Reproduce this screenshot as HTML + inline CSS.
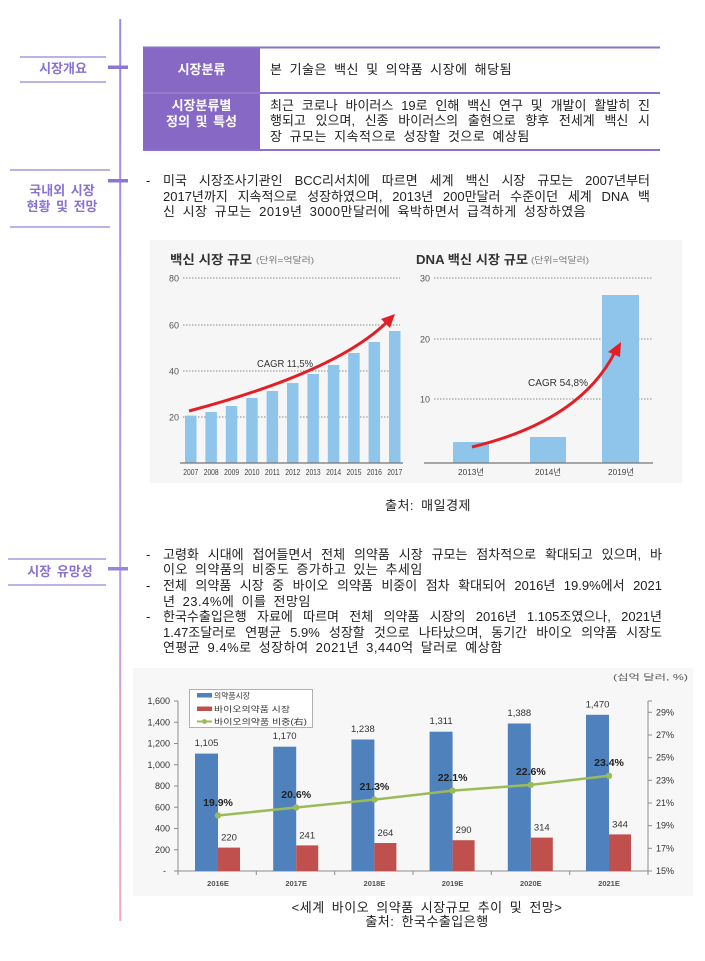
<!DOCTYPE html>
<html>
<head>
<meta charset="utf-8">
<style>
  html,body{margin:0;padding:0;background:#fff;}
  body{width:705px;height:961px;position:relative;overflow:hidden;
    font-family:"Liberation Sans","Noto Sans CJK KR",sans-serif;color:#222;}
  .t{position:absolute;font-size:13px;line-height:16px;height:16px;white-space:nowrap;word-spacing:3px;letter-spacing:0.5px;}
  .j{position:absolute;font-size:13px;line-height:16px;height:16px;text-align:justify;text-align-last:justify;overflow:visible;}
  .lab{position:absolute;font-size:13px;line-height:16px;font-weight:bold;color:#8a72d2;text-align:center;white-space:nowrap;word-spacing:2px;}
  .hd{position:absolute;color:#fff;font-weight:bold;font-size:13px;line-height:15.5px;text-align:center;white-space:nowrap;word-spacing:2px;}
  svg{position:absolute;left:0;top:0;}
</style>
</head>
<body>
<svg width="705" height="961" viewBox="0 0 705 961" xmlns="http://www.w3.org/2000/svg">
  <defs>
    <linearGradient id="vg" x1="0" y1="0" x2="0" y2="1">
      <stop offset="0" stop-color="#9d88e4"/>
      <stop offset="0.55" stop-color="#b79ae0"/>
      <stop offset="1" stop-color="#f5a8c2"/>
    </linearGradient>
  </defs>
  <!-- timeline -->
  <rect x="119.2" y="19" width="2" height="902" fill="url(#vg)"/>
  <rect x="108" y="65.5" width="20" height="3.5" fill="#8b76d8"/>
  <rect x="108" y="179" width="20" height="3.5" fill="#8b76d8"/>
  <rect x="108" y="567" width="20" height="3.5" fill="#9a84dc"/>
  <!-- label lines -->
  <g stroke="#a797e0" stroke-width="1.5">
    <line x1="20" y1="57" x2="106" y2="57"/>
    <line x1="20" y1="82" x2="106" y2="82"/>
    <line x1="10" y1="170" x2="110" y2="170"/>
    <line x1="10" y1="227" x2="110" y2="227"/>
    <line x1="8" y1="559" x2="106" y2="559"/>
    <line x1="8" y1="585" x2="106" y2="585"/>
  </g>
  <!-- table -->
  <rect x="143" y="47" width="117" height="103" fill="#8769c5"/>
  <line x1="143" y1="47.5" x2="660" y2="47.5" stroke="#8a70d0" stroke-width="2"/>
  <line x1="143" y1="93" x2="260" y2="93" stroke="#9d86d6" stroke-width="1.2"/>
  <line x1="260" y1="93" x2="660" y2="93" stroke="#8a70d0" stroke-width="2"/>
  <line x1="143" y1="150" x2="660" y2="150" stroke="#8a70d0" stroke-width="2"/>

  <!-- top chart backgrounds -->
  <rect x="150" y="240" width="532" height="243" fill="#f6f6f6"/>

  <!-- Left chart -->
  <text x="170" y="264" font-family="Liberation Sans, Noto Sans CJK KR, sans-serif" font-size="12.5" font-weight="bold" fill="#333" textLength="82" lengthAdjust="spacingAndGlyphs">백신 시장 규모</text>
  <text x="256" y="263" font-family="Liberation Sans, Noto Sans CJK KR, sans-serif" font-size="8.5" fill="#777" textLength="58" lengthAdjust="spacingAndGlyphs">(단위=억달러)</text>
  <g stroke="#8a8a8a" stroke-width="1" stroke-dasharray="1.5,1.5">
    <line x1="183" y1="278" x2="400" y2="278"/>
    <line x1="183" y1="325" x2="400" y2="325"/>
    <line x1="183" y1="371" x2="400" y2="371"/>
    <line x1="183" y1="417" x2="400" y2="417"/>
  </g>
  <g font-family="Liberation Sans, sans-serif" font-size="9.5" fill="#555">
    <text x="169" y="281.5" textLength="10" lengthAdjust="spacingAndGlyphs">80</text>
    <text x="169" y="328.5" textLength="10" lengthAdjust="spacingAndGlyphs">60</text>
    <text x="169" y="374.5" textLength="10" lengthAdjust="spacingAndGlyphs">40</text>
    <text x="169" y="420.5" textLength="10" lengthAdjust="spacingAndGlyphs">20</text>
  </g>
  <g fill="#8fc5eb">
    <rect x="185" y="415.6" width="11.5" height="47.4"/>
    <rect x="205.4" y="412" width="11.5" height="51"/>
    <rect x="225.8" y="406" width="11.5" height="57"/>
    <rect x="246.2" y="398" width="11.5" height="65"/>
    <rect x="266.6" y="391" width="11.5" height="72"/>
    <rect x="287" y="383" width="11.5" height="80"/>
    <rect x="307.4" y="374" width="11.5" height="89"/>
    <rect x="327.8" y="365" width="11.5" height="98"/>
    <rect x="348.2" y="353" width="11.5" height="110"/>
    <rect x="368.6" y="342" width="11.5" height="121"/>
    <rect x="389" y="331" width="11.5" height="132"/>
  </g>
  <line x1="180" y1="463" x2="403" y2="463" stroke="#777" stroke-width="1.2"/>
  <g font-family="Liberation Sans, sans-serif" font-size="8.5" fill="#444" text-anchor="middle">
    <text x="190.8" y="475" textLength="15" lengthAdjust="spacingAndGlyphs">2007</text>
    <text x="211.2" y="475" textLength="15" lengthAdjust="spacingAndGlyphs">2008</text>
    <text x="231.6" y="475" textLength="15" lengthAdjust="spacingAndGlyphs">2009</text>
    <text x="252" y="475" textLength="15" lengthAdjust="spacingAndGlyphs">2010</text>
    <text x="272.4" y="475" textLength="15" lengthAdjust="spacingAndGlyphs">2011</text>
    <text x="292.8" y="475" textLength="15" lengthAdjust="spacingAndGlyphs">2012</text>
    <text x="313.2" y="475" textLength="15" lengthAdjust="spacingAndGlyphs">2013</text>
    <text x="333.6" y="475" textLength="15" lengthAdjust="spacingAndGlyphs">2014</text>
    <text x="354" y="475" textLength="15" lengthAdjust="spacingAndGlyphs">2015</text>
    <text x="374.4" y="475" textLength="15" lengthAdjust="spacingAndGlyphs">2016</text>
    <text x="394.8" y="475" textLength="15" lengthAdjust="spacingAndGlyphs">2017</text>
  </g>
  <path d="M189,411 Q336,372 387,322" fill="none" stroke="#e41e26" stroke-width="3"/>
  <polygon points="395,314 381,319 390,328" fill="#e41e26"/>
  <text x="257" y="367" font-family="Liberation Sans, sans-serif" font-size="10.5" fill="#333" textLength="56" lengthAdjust="spacingAndGlyphs">CAGR 11,5%</text>

  <!-- Right chart -->
  <text x="416" y="264" font-family="Liberation Sans, Noto Sans CJK KR, sans-serif" font-size="12.5" font-weight="bold" fill="#333" textLength="112" lengthAdjust="spacingAndGlyphs">DNA 백신 시장 규모</text>
  <text x="531" y="263" font-family="Liberation Sans, Noto Sans CJK KR, sans-serif" font-size="8.5" fill="#777" textLength="58" lengthAdjust="spacingAndGlyphs">(단위=억달러)</text>
  <g stroke="#8a8a8a" stroke-width="1" stroke-dasharray="1.5,1.5">
    <line x1="434" y1="278" x2="653" y2="278"/>
    <line x1="434" y1="339" x2="653" y2="339"/>
    <line x1="434" y1="399" x2="653" y2="399"/>
  </g>
  <g font-family="Liberation Sans, sans-serif" font-size="9.5" fill="#555">
    <text x="420" y="281.5" textLength="10" lengthAdjust="spacingAndGlyphs">30</text>
    <text x="420" y="342.5" textLength="10" lengthAdjust="spacingAndGlyphs">20</text>
    <text x="420" y="402.5" textLength="10" lengthAdjust="spacingAndGlyphs">10</text>
  </g>
  <g fill="#8fc5eb">
    <rect x="453" y="442" width="36" height="21"/>
    <rect x="530" y="437" width="36" height="26"/>
    <rect x="602" y="295" width="37" height="168"/>
  </g>
  <line x1="424" y1="463" x2="653" y2="463" stroke="#777" stroke-width="1.2"/>
  <g font-family="Liberation Sans, Noto Sans CJK KR, sans-serif" font-size="8.5" fill="#444" text-anchor="middle">
    <text x="471" y="475" textLength="26" lengthAdjust="spacingAndGlyphs">2013년</text>
    <text x="548" y="475" textLength="26" lengthAdjust="spacingAndGlyphs">2014년</text>
    <text x="621" y="475" textLength="26" lengthAdjust="spacingAndGlyphs">2019년</text>
  </g>
  <path d="M472,447 Q580,421 615,352" fill="none" stroke="#e41e26" stroke-width="3"/>
  <polygon points="621,342 608,352 620,357" fill="#e41e26"/>
  <text x="528" y="386" font-family="Liberation Sans, sans-serif" font-size="10.5" fill="#333" textLength="60" lengthAdjust="spacingAndGlyphs">CAGR 54,8%</text>

  <!-- Bottom chart -->
  <rect x="133" y="668" width="560" height="228" fill="#f7f7f7"/>
  <text x="613" y="680" font-family="Liberation Sans, Noto Sans CJK KR, sans-serif" font-size="8" fill="#555" textLength="75" lengthAdjust="spacingAndGlyphs">(십억 달러, %)</text>
  <!-- axes -->
  <g stroke="#8c8c8c" stroke-width="1">
    <line x1="178" y1="701" x2="178" y2="871"/>
    <line x1="648" y1="701" x2="648" y2="871"/>
    <line x1="174" y1="871" x2="652" y2="871"/>
    <line x1="174" y1="701" x2="178" y2="701"/>
    <line x1="174" y1="722.25" x2="178" y2="722.25"/>
    <line x1="174" y1="743.5" x2="178" y2="743.5"/>
    <line x1="174" y1="764.75" x2="178" y2="764.75"/>
    <line x1="174" y1="786" x2="178" y2="786"/>
    <line x1="174" y1="807.25" x2="178" y2="807.25"/>
    <line x1="174" y1="828.5" x2="178" y2="828.5"/>
    <line x1="174" y1="849.75" x2="178" y2="849.75"/>
    <line x1="648" y1="701" x2="652" y2="701"/>
    <line x1="648" y1="712.3" x2="652" y2="712.3"/>
    <line x1="648" y1="735" x2="652" y2="735"/>
    <line x1="648" y1="757.7" x2="652" y2="757.7"/>
    <line x1="648" y1="780.3" x2="652" y2="780.3"/>
    <line x1="648" y1="803" x2="652" y2="803"/>
    <line x1="648" y1="825.7" x2="652" y2="825.7"/>
    <line x1="648" y1="848.3" x2="652" y2="848.3"/>
    <line x1="256.3" y1="871" x2="256.3" y2="875"/>
    <line x1="334.7" y1="871" x2="334.7" y2="875"/>
    <line x1="413" y1="871" x2="413" y2="875"/>
    <line x1="491.3" y1="871" x2="491.3" y2="875"/>
    <line x1="569.7" y1="871" x2="569.7" y2="875"/>
    <line x1="178" y1="871" x2="178" y2="875"/>
    <line x1="648" y1="871" x2="648" y2="875"/>
  </g>
  <g font-family="Liberation Sans, sans-serif" font-size="9" fill="#333" text-anchor="end">
    <text x="170" y="704">1,600</text>
    <text x="170" y="725.3">1,400</text>
    <text x="170" y="746.5">1,200</text>
    <text x="170" y="767.8">1,000</text>
    <text x="170" y="789">800</text>
    <text x="170" y="810.3">600</text>
    <text x="170" y="831.5">400</text>
    <text x="170" y="852.8">200</text>
    <text x="166" y="874">-</text>
  </g>
  <g font-family="Liberation Sans, sans-serif" font-size="9" fill="#333">
    <text x="656" y="715.3">29%</text>
    <text x="656" y="738">27%</text>
    <text x="656" y="760.7">25%</text>
    <text x="656" y="783.3">23%</text>
    <text x="656" y="806">21%</text>
    <text x="656" y="828.7">19%</text>
    <text x="656" y="851.3">17%</text>
    <text x="656" y="874">15%</text>
  </g>
  <!-- bars -->
  <g fill="#4f81bd">
    <rect x="195" y="753.6" width="23" height="117.4"/>
    <rect x="273.2" y="746.7" width="23" height="124.3"/>
    <rect x="351.4" y="739.5" width="23" height="131.5"/>
    <rect x="429.6" y="731.7" width="23" height="139.3"/>
    <rect x="507.8" y="723.5" width="23" height="147.5"/>
    <rect x="586" y="714.8" width="23" height="156.2"/>
  </g>
  <g fill="#c0504d">
    <rect x="218" y="847.6" width="22" height="23.4"/>
    <rect x="296.2" y="845.4" width="22" height="25.6"/>
    <rect x="374.4" y="843" width="22" height="28"/>
    <rect x="452.6" y="840.2" width="22" height="30.8"/>
    <rect x="530.8" y="837.6" width="22" height="33.4"/>
    <rect x="609" y="834.4" width="22" height="36.6"/>
  </g>
  <g font-family="Liberation Sans, sans-serif" font-size="9.5" fill="#333" text-anchor="middle">
    <text x="206.5" y="746">1,105</text>
    <text x="284.7" y="739">1,170</text>
    <text x="362.9" y="732">1,238</text>
    <text x="441.1" y="724">1,311</text>
    <text x="519.3" y="716">1,388</text>
    <text x="597.5" y="707.5">1,470</text>
    <text x="229" y="840.5">220</text>
    <text x="307.2" y="838.3">241</text>
    <text x="385.4" y="836">264</text>
    <text x="463.6" y="833">290</text>
    <text x="541.8" y="830.5">314</text>
    <text x="620" y="827.3">344</text>
  </g>
  <polyline points="218,815.5 296.2,807.5 374.4,799.6 452.6,790.6 530.8,784.9 609,775.8" fill="none" stroke="#9bbb59" stroke-width="2.5"/>
  <g fill="#9bbb59">
    <circle cx="218" cy="815.5" r="3.2"/>
    <circle cx="296.2" cy="807.5" r="3.2"/>
    <circle cx="374.4" cy="799.6" r="3.2"/>
    <circle cx="452.6" cy="790.6" r="3.2"/>
    <circle cx="530.8" cy="784.9" r="3.2"/>
    <circle cx="609" cy="775.8" r="3.2"/>
  </g>
  <g font-family="Liberation Sans, sans-serif" font-size="10.5" font-weight="bold" fill="#222" text-anchor="middle">
    <text x="218" y="806">19.9%</text>
    <text x="296.2" y="798">20.6%</text>
    <text x="374.4" y="790">21.3%</text>
    <text x="452.6" y="781">22.1%</text>
    <text x="530.8" y="775">22.6%</text>
    <text x="609" y="766">23.4%</text>
  </g>
  <g font-family="Liberation Sans, sans-serif" font-size="7.5" font-weight="bold" fill="#555" text-anchor="middle">
    <text x="218" y="886">2016E</text>
    <text x="296.2" y="886">2017E</text>
    <text x="374.4" y="886">2018E</text>
    <text x="452.6" y="886">2019E</text>
    <text x="530.8" y="886">2020E</text>
    <text x="609" y="886">2021E</text>
  </g>
  <!-- legend -->
  <rect x="189.5" y="689.5" width="123" height="38" fill="#fff" stroke="#b0b0b0" stroke-width="1"/>
  <rect x="197" y="693" width="15" height="4.5" fill="#4f81bd"/>
  <rect x="197" y="706.5" width="15" height="4.5" fill="#c0504d"/>
  <line x1="197" y1="721.5" x2="212" y2="721.5" stroke="#9bbb59" stroke-width="2"/>
  <circle cx="204.5" cy="721.5" r="2.4" fill="#9bbb59"/>
  <g font-family="Liberation Sans, Noto Sans CJK KR, sans-serif" font-size="8" fill="#333">
    <text x="214" y="698.5" textLength="36" lengthAdjust="spacingAndGlyphs">의약품시장</text>
    <text x="214" y="712" textLength="76" lengthAdjust="spacingAndGlyphs">바이오의약품 시장</text>
    <text x="214" y="724.5" textLength="93" lengthAdjust="spacingAndGlyphs">바이오의약품 비중(右)</text>
  </g>
</svg>

<!-- left labels -->
<div class="lab" style="left:20px;width:86px;top:61px;">시장개요</div>
<div class="lab" style="left:10px;width:104px;top:183px;">국내외 시장</div>
<div class="lab" style="left:10px;width:104px;top:199px;">현황 및 전망</div>
<div class="lab" style="left:10px;width:100px;top:564px;">시장 유망성</div>

<!-- table header cells -->
<div class="hd" style="left:143px;width:117px;top:62px;">시장분류</div>
<div class="hd" style="left:143px;width:117px;top:98px;">시장분류별</div>
<div class="hd" style="left:143px;width:117px;top:113.5px;">정의 및 특성</div>

<!-- table content -->
<div class="t" style="left:270px;top:62px;">본 기술은 백신 및 의약품 시장에 해당됨</div>
<div class="j" style="left:270px;width:380px;top:98px;">최근 코로나 바이러스 19로 인해 백신 연구 및 개발이 활발히 진</div>
<div class="j" style="left:270px;width:380px;top:113px;">행되고 있으며, 신종 바이러스의 출현으로 향후 전세계 백신 시</div>
<div class="t" style="left:270px;top:129px;">장 규모는 지속적으로 성장할 것으로 예상됨</div>

<!-- paragraph 1 -->
<div class="t" style="left:146px;top:173px;">-</div>
<div class="j" style="left:163px;width:487px;top:173px;">미국 시장조사기관인 BCC리서치에 따르면 세계 백신 시장 규모는 2007년부터</div>
<div class="j" style="left:163px;width:487px;top:189px;">2017년까지 지속적으로 성장하였으며, 2013년 200만달러 수준이던 세계 DNA 백</div>
<div class="t" style="left:163px;top:204px;">신 시장 규모는 2019년 3000만달러에 육박하면서 급격하게 성장하였음</div>

<div class="t" style="left:385px;top:498px;">출처: 매일경제</div>

<!-- bullets -->
<div class="t" style="left:146px;top:547px;">-</div>
<div class="j" style="left:163px;width:499px;top:547px;">고령화 시대에 접어들면서 전체 의약품 시장 규모는 점차적으로 확대되고 있으며, 바</div>
<div class="t" style="left:163px;top:562px;">이오 의약품의 비중도 증가하고 있는 추세임</div>
<div class="t" style="left:146px;top:578px;">-</div>
<div class="j" style="left:163px;width:499px;top:578px;">전체 의약품 시장 중 바이오 의약품 비중이 점차 확대되어 2016년 19.9%에서 2021</div>
<div class="t" style="left:163px;top:594px;">년 23.4%에 이를 전망임</div>
<div class="t" style="left:146px;top:609px;">-</div>
<div class="j" style="left:163px;width:499px;top:609px;">한국수출입은행 자료에 따르며 전체 의약품 시장의 2016년 1.105조였으나, 2021년</div>
<div class="j" style="left:163px;width:499px;top:625px;">1.47조달러로 연평균 5.9% 성장할 것으로 나타났으며, 동기간 바이오 의약품 시장도</div>
<div class="t" style="left:163px;top:640px;">연평균 9.4%로 성장하여 2021년 3,440억 달러로 예상함</div>

<!-- caption -->
<div class="t" style="left:277px;width:300px;text-align:center;top:900px;">&lt;세계 바이오 의약품 시장규모 추이 및 전망&gt;</div>
<div class="t" style="left:277px;width:300px;text-align:center;top:914px;">출처: 한국수출입은행</div>
</body>
</html>
